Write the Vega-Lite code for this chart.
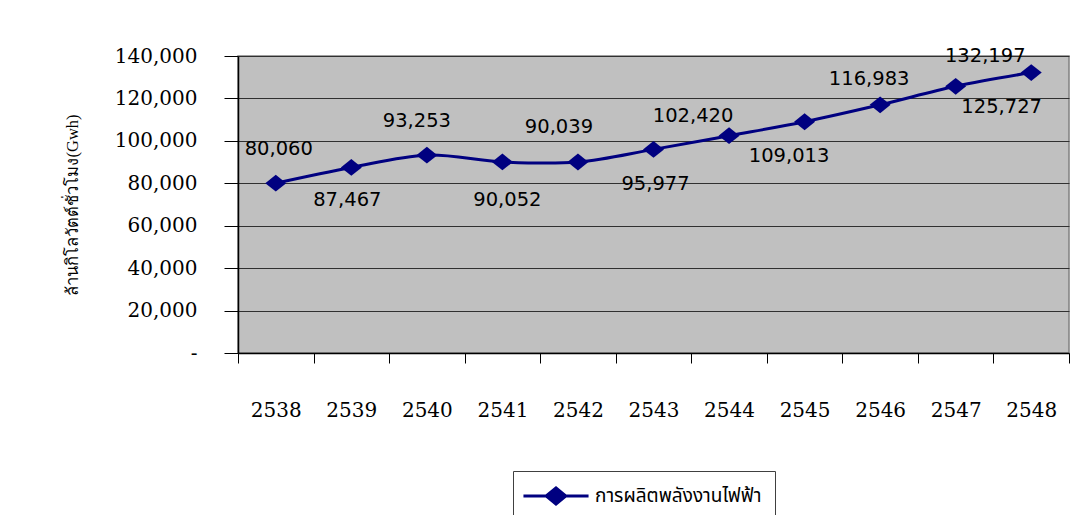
{
  "$schema": "https://vega.github.io/schema/vega-lite/v6.json",
  "width": 831,
  "height": 297,
  "autosize": {"type": "none"},
  "padding": {"left": 238, "top": 56, "right": 14, "bottom": 162},
  "background": "#ffffff",
  "config": {
    "view": {"fill": "#c0c0c0", "stroke": "#808080", "strokeWidth": 1.5},
    "axis": {"labelColor": "#000000", "titleColor": "#000000"}
  },
  "data": {
    "values": [
      {"year": 2538, "gwh": 80060, "series": "การผลิตพลังงานไฟฟ้า"},
      {"year": 2539, "gwh": 87467, "series": "การผลิตพลังงานไฟฟ้า"},
      {"year": 2540, "gwh": 93253, "series": "การผลิตพลังงานไฟฟ้า"},
      {"year": 2541, "gwh": 90052, "series": "การผลิตพลังงานไฟฟ้า"},
      {"year": 2542, "gwh": 90039, "series": "การผลิตพลังงานไฟฟ้า"},
      {"year": 2543, "gwh": 95977, "series": "การผลิตพลังงานไฟฟ้า"},
      {"year": 2544, "gwh": 102420, "series": "การผลิตพลังงานไฟฟ้า"},
      {"year": 2545, "gwh": 109013, "series": "การผลิตพลังงานไฟฟ้า"},
      {"year": 2546, "gwh": 116983, "series": "การผลิตพลังงานไฟฟ้า"},
      {"year": 2547, "gwh": 125727, "series": "การผลิตพลังงานไฟฟ้า"},
      {"year": 2548, "gwh": 132197, "series": "การผลิตพลังงานไฟฟ้า"}
    ]
  },
  "encoding": {
    "x": {
      "field": "year",
      "type": "ordinal",
      "bandPosition": 0.5,
      "scale": {"type": "band", "paddingInner": 0, "paddingOuter": 0},
      "axis": {
        "title": null,
        "labelAngle": 0,
        "labelFont": "DejaVu Serif",
        "labelFontSize": 20,
        "labelPadding": 37,
        "tickBand": "extent",
        "tickSize": 10,
        "tickColor": "#000000",
        "tickWidth": 1,
        "domainColor": "#000000",
        "domainWidth": 1.5,
        "grid": false
      }
    },
    "y": {
      "field": "gwh",
      "type": "quantitative",
      "scale": {"domain": [0, 140000], "nice": false, "zero": true},
      "axis": {
        "title": "ล้านกิโลวัตต์ชั่วโมง(Gwh)",
        "titleFont": "Liberation Serif",
        "titleFontSize": 16.5,
        "titleFontWeight": "normal",
        "titlePadding": 34,
        "values": [0, 20000, 40000, 60000, 80000, 100000, 120000, 140000],
        "labelExpr": "datum.value === 0 ? '-\u00a0\u00a0\u00a0\u00a0' : format(datum.value, ',')",
        "labelFont": "DejaVu Serif",
        "labelFontSize": 20,
        "labelPadding": 27,
        "tickSize": 14,
        "tickColor": "#000000",
        "tickWidth": 1,
        "domainColor": "#000000",
        "domainWidth": 1.5,
        "grid": true,
        "gridColor": "#303030",
        "gridWidth": 1
      }
    }
  },
  "layer": [
    {
      "mark": {"type": "line", "interpolate": "catmull-rom", "strokeWidth": 3},
      "encoding": {
        "color": {
          "field": "series",
          "type": "nominal",
          "scale": {"range": ["#000080"]},
          "legend": {
            "title": null,
            "orient": "none",
            "legendX": 275,
            "legendY": 415,
            "padding": 13,
            "strokeColor": "#404040",
            "fillColor": "#ffffff",
            "symbolType": "M-3.1,0L3.1,0M-0.93,0L0,-0.76L0.93,0L0,0.76Z",
            "symbolSize": 441,
            "symbolStrokeWidth": 3,
            "symbolOffset": 18,
            "labelOffset": 27,
            "labelFont": "Noto Sans Thai, Noto Serif Thai, Loma, Tahoma, sans-serif",
            "labelFontSize": 19,
            "labelColor": "#000000",
            "labelLimit": 400,
            "encode": {
              "symbols": {
                "update": {
                  "fill": {"value": "#000080"},
                  "stroke": {"value": "#000080"},
                  "strokeWidth": {"value": 3},
                  "opacity": {"value": 1}
                }
              }
            }
          }
        }
      }
    },
    {
      "mark": {
        "type": "point",
        "shape": "M-1,0L0,-0.8L1,0L0,0.8Z",
        "size": 441,
        "filled": true,
        "opacity": 1,
        "color": "#000080"
      }
    },
    {
      "encoding": {
        "text": {"field": "gwh", "type": "quantitative", "format": ","}
      },
      "layer": [
        {"transform": [{"filter": "datum.year === 2538"}], "mark": {"type": "text", "font": "DejaVu Sans", "fontSize": 19.5, "color": "#000000", "baseline": "middle", "dx": 3, "dy": -34}},
        {"transform": [{"filter": "datum.year === 2539"}], "mark": {"type": "text", "font": "DejaVu Sans", "fontSize": 19.5, "color": "#000000", "baseline": "middle", "dx": -4, "dy": 33}},
        {"transform": [{"filter": "datum.year === 2540"}], "mark": {"type": "text", "font": "DejaVu Sans", "fontSize": 19.5, "color": "#000000", "baseline": "middle", "dx": -10, "dy": -34.5}},
        {"transform": [{"filter": "datum.year === 2541"}], "mark": {"type": "text", "font": "DejaVu Sans", "fontSize": 19.5, "color": "#000000", "baseline": "middle", "dx": 5, "dy": 38}},
        {"transform": [{"filter": "datum.year === 2542"}], "mark": {"type": "text", "font": "DejaVu Sans", "fontSize": 19.5, "color": "#000000", "baseline": "middle", "dx": -19, "dy": -34.5}},
        {"transform": [{"filter": "datum.year === 2543"}], "mark": {"type": "text", "font": "DejaVu Sans", "fontSize": 19.5, "color": "#000000", "baseline": "middle", "dx": 2, "dy": 34.5}},
        {"transform": [{"filter": "datum.year === 2544"}], "mark": {"type": "text", "font": "DejaVu Sans", "fontSize": 19.5, "color": "#000000", "baseline": "middle", "dx": -36, "dy": -20}},
        {"transform": [{"filter": "datum.year === 2545"}], "mark": {"type": "text", "font": "DejaVu Sans", "fontSize": 19.5, "color": "#000000", "baseline": "middle", "dx": -15.5, "dy": 34.3}},
        {"transform": [{"filter": "datum.year === 2546"}], "mark": {"type": "text", "font": "DejaVu Sans", "fontSize": 19.5, "color": "#000000", "baseline": "middle", "dx": -11, "dy": -25.5}},
        {"transform": [{"filter": "datum.year === 2547"}], "mark": {"type": "text", "font": "DejaVu Sans", "fontSize": 19.5, "color": "#000000", "baseline": "middle", "dx": 46, "dy": 21}},
        {"transform": [{"filter": "datum.year === 2548"}], "mark": {"type": "text", "font": "DejaVu Sans", "fontSize": 19.5, "color": "#000000", "baseline": "middle", "dx": -46, "dy": -17}}
      ]
    }
  ]
}
